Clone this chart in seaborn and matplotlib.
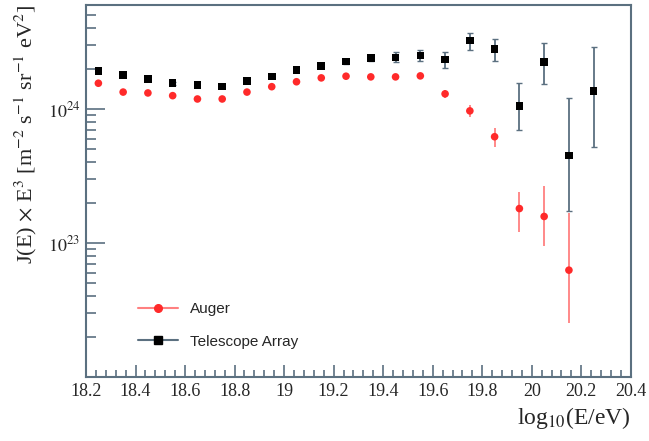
import numpy as np
import pandas as pd
import matplotlib
matplotlib.use("Agg")
import matplotlib.pyplot as plt
import matplotlib.ticker as mticker
from matplotlib.lines import Line2D
import seaborn as sns

# energy bin centres, log10(E/eV)
logE_ta = [18.25, 18.35, 18.45, 18.55, 18.65, 18.75, 18.85, 18.95, 19.05, 19.15, 19.25,
           19.35, 19.45, 19.55, 19.65, 19.75, 19.85, 19.95, 20.05, 20.15, 20.25]
flux_ta = [1.93e24, 1.79e24, 1.67e24, 1.56e24, 1.51e24, 1.47e24, 1.62e24, 1.75e24, 1.95e24,
           2.09e24, 2.27e24, 2.41e24, 2.42e24, 2.52e24, 2.34e24, 3.26e24, 2.81e24, 1.05e24,
           2.25e24, 4.5e23, 1.37e24]
ta_hi = [1.97e24, 1.83e24, 1.71e24, 1.60e24, 1.55e24, 1.51e24, 1.66e24, 1.80e24, 2.01e24,
         2.16e24, 2.36e24, 2.55e24, 2.65e24, 2.78e24, 2.67e24, 3.72e24, 3.31e24, 1.57e24,
         3.13e24, 1.20e24, 2.90e24]
ta_lo = [1.89e24, 1.75e24, 1.63e24, 1.52e24, 1.47e24, 1.43e24, 1.58e24, 1.70e24, 1.89e24,
         2.02e24, 2.18e24, 2.28e24, 2.24e24, 2.27e24, 2.03e24, 2.78e24, 2.29e24, 6.98e23,
         1.53e24, 1.74e23, 5.24e23]

logE_auger = [18.25, 18.35, 18.45, 18.55, 18.65, 18.75, 18.85, 18.95, 19.05, 19.15, 19.25,
              19.35, 19.45, 19.55, 19.65, 19.75, 19.85, 19.95, 20.05, 20.15]
flux_auger = [1.56e24, 1.34e24, 1.32e24, 1.26e24, 1.19e24, 1.19e24, 1.34e24, 1.47e24, 1.60e24,
              1.71e24, 1.76e24, 1.74e24, 1.74e24, 1.77e24, 1.30e24, 9.7e23, 6.22e23, 1.81e23,
              1.58e23, 6.28e22]
auger_hi = [1.58e24, 1.36e24, 1.34e24, 1.28e24, 1.21e24, 1.21e24, 1.36e24, 1.50e24, 1.63e24,
            1.75e24, 1.80e24, 1.79e24, 1.80e24, 1.84e24, 1.38e24, 1.07e24, 7.26e23, 2.39e23,
            2.68e23, 1.68e23]
auger_lo = [1.54e24, 1.32e24, 1.30e24, 1.24e24, 1.17e24, 1.17e24, 1.32e24, 1.44e24, 1.57e24,
            1.67e24, 1.72e24, 1.69e24, 1.68e24, 1.70e24, 1.22e24, 8.7e23, 5.25e23, 1.22e23,
            9.57e22, 2.55e22]

red = "#ff2a2a"
red_err = "#ff8080"
spine_col = "#5b7080"

df = pd.concat([
    pd.DataFrame({"logE": logE_auger, "flux": flux_auger, "exp": "Auger"}),
    pd.DataFrame({"logE": logE_ta, "flux": flux_ta, "exp": "Telescope Array"}),
])

sns.set_style("white")
plt.rcParams["font.family"] = ["Liberation Serif", "DejaVu Serif"]
plt.rcParams["mathtext.fontset"] = "stix"

fig = plt.figure(figsize=(6.49, 4.41), dpi=100)
ax = fig.add_axes([0.1325, 0.145, 0.8395, 0.844])

ax.errorbar(logE_auger, flux_auger,
            yerr=[np.array(flux_auger) - np.array(auger_lo), np.array(auger_hi) - np.array(flux_auger)],
            fmt="none", ecolor=red_err, elinewidth=1.3, capsize=0, zorder=2)
ax.errorbar(logE_ta, flux_ta,
            yerr=[np.array(flux_ta) - np.array(ta_lo), np.array(ta_hi) - np.array(flux_ta)],
            fmt="none", ecolor=spine_col, elinewidth=1.3, capsize=2, capthick=1, zorder=2)

sns.scatterplot(data=df, x="logE", y="flux", hue="exp", style="exp",
                palette={"Auger": red, "Telescope Array": "black"},
                markers={"Auger": "o", "Telescope Array": "s"},
                s=30, linewidth=0, legend=False, ax=ax, zorder=3)

ax.set_yscale("log")
ax.set_xlim(18.2, 20.4)
ax.set_ylim(1e22, 6e24)
ax.set_xticks(np.arange(18.2, 20.41, 0.2))
ax.xaxis.set_major_formatter(mticker.FuncFormatter(lambda v, p: f"{v:g}" if abs(v - round(v)) > 1e-6 else f"{int(round(v))}"))
ax.xaxis.set_minor_locator(mticker.MultipleLocator(0.04))
ax.yaxis.set_major_locator(mticker.FixedLocator([1e23, 1e24]))
ax.yaxis.set_minor_locator(mticker.LogLocator(base=10, subs=np.arange(2, 10)))
ax.yaxis.set_minor_formatter(mticker.NullFormatter())
ax.set_yticklabels([r"$10^{23}$", r"$10^{24}$"])

ax.tick_params(axis="both", which="both", direction="in", color=spine_col, width=1.2,
               bottom=True, left=True, top=False, right=False, labelsize=13, pad=4)
ax.tick_params(axis="x", which="major", length=9)
ax.tick_params(axis="x", which="minor", length=5)
ax.tick_params(axis="y", which="major", length=14)
ax.tick_params(axis="y", which="minor", length=7)
for s in ax.spines.values():
    s.set_color(spine_col)
    s.set_linewidth(1.5)

ax.set_xlabel(r"log$_{10}$(E/eV)", fontsize=17, ha="right", x=1.0, labelpad=4)
ax.set_ylabel(r"J(E) $\times$ E$^3$ [m$^{-2}$ s$^{-1}$ sr$^{-1}$ eV$^2$]", fontsize=16,
              ha="right", y=1.0, labelpad=6)

handles = [
    Line2D([0], [0], color=red_err, lw=1.5, marker="o", markersize=5.5,
           markerfacecolor=red, markeredgecolor=red, label="Auger"),
    Line2D([0], [0], color=spine_col, lw=1.5, marker="s", markersize=5.5,
           markerfacecolor="black", markeredgecolor="black", label="Telescope Array"),
]
ax.legend(handles=handles, loc="lower left", bbox_to_anchor=(0.085, 0.06), frameon=False,
          prop={"family": "Liberation Sans", "size": 11}, handlelength=2.6,
          labelspacing=1.2, borderaxespad=0)

fig.savefig("out.png", dpi=100)
